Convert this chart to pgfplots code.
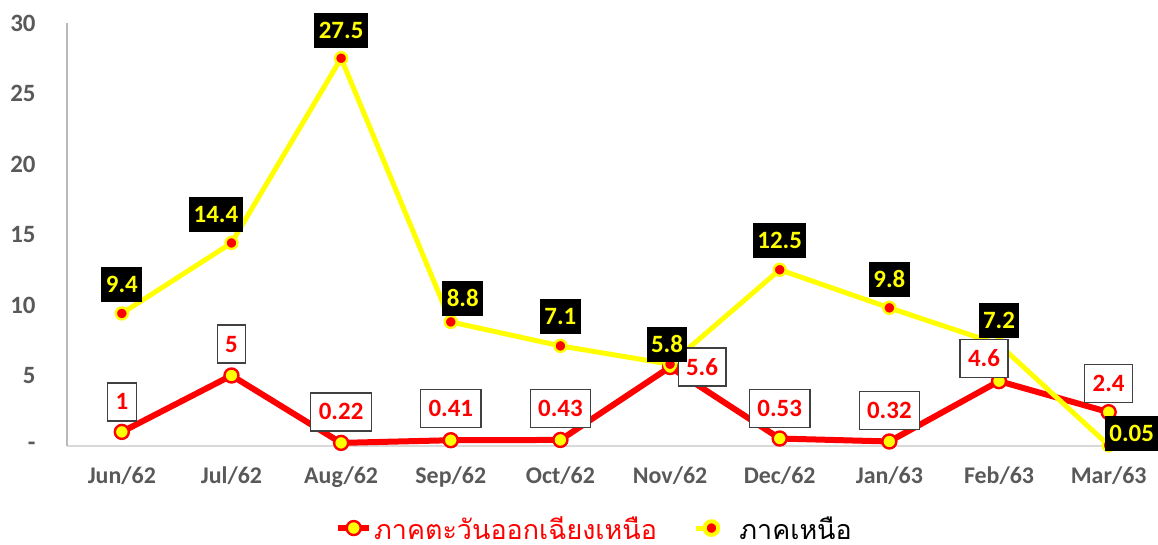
\documentclass[border=0pt]{standalone}
\usepackage{pgfplots}
\usepackage{pgfplotstable}
\pgfplotsset{compat=1.18}
\usepackage{fontspec}
\setmainfont{Carlito}
\newfontfamily\thaifont[Script=Thai]{Loma}
\definecolor{tgray}{HTML}{595959}
\definecolor{lred}{HTML}{FF0000}
\definecolor{lyel}{HTML}{FFFF00}
\definecolor{boxborder}{HTML}{404040}

% dx, dy: label offset in pixels (dy positive = up)
\pgfplotstableread{
x y dx dy lab
0 1 0 30 1
1 5 0 31.5 5
2 0.22 0 31 0.22
3 0.41 0 31.5 0.41
4 0.43 0 31.5 0.43
5 5.6 32 0 5.6
6 0.53 0 30 0.53
7 0.32 0 31 0.32
8 4.6 -15 23 4.6
9 2.4 0 29 2.4
}\redtab

\pgfplotstableread{
x y dx dy lab
0 9.4 0 29 9.4
1 14.4 -15.5 28 14.4
2 27.5 0 28 27.5
3 8.8 12 23 8.8
4 7.1 0 29 7.1
5 5.8 -3 20 5.8
6 12.5 0 29 12.5
7 9.8 0 28 9.8
8 7.2 0 24 7.2
9 0.05 23 12 0.05
}\yeltab

\begin{document}
\begin{tikzpicture}
\begin{axis}[
  at={(0,0)}, anchor=south west,
  scale only axis, width=545.5bp, height=211.5bp,
  xmin=-0.5, xmax=9.45, ymin=0, ymax=30,
  clip=false,
  axis x line=bottom, axis y line=left,
  x axis line style={-, draw=gray!30, line width=0.75bp},
  y axis line style={-, draw=gray!55, line width=1bp},
  major tick length=0pt,
  /pgf/number format/assume math mode=true,
  xtick={0,...,9},
  xticklabels={Jun/62,Jul/62,Aug/62,Sep/62,Oct/62,Nov/62,Dec/62,Jan/63,Feb/63,Mar/63},
  ytick={0,5,...,30},
  yticklabels={-\hspace{6.5bp},5,10,15,20,25,30},
  ticklabel style={font=\fontsize{12}{14}\selectfont\bfseries, text=tgray, inner sep=0pt},
  xticklabel style={anchor=base, yshift=-18.5bp},
  yticklabel style={anchor=east, xshift=-15.5bp, font=\fontsize{12.5}{14}\selectfont\bfseries},
  legend style={at={(0.4835,-0.194)}, anchor=center, draw=none, fill=none, inner sep=0pt,
    legend columns=2, font=\fontsize{13.5}{15}\selectfont,
    nodes={inner xsep=1bp, inner ysep=0pt, text depth=0pt},
    /tikz/every even column/.append style={column sep=17.5bp}},
  legend cell align=left,
]
\addlegendimage{legend image code/.code={
  \draw[lred, line width=3bp] (0bp,0bp) -- (15.5bp,0bp);
  \draw[fill=lyel, draw=lred, line width=1.2bp] (7.75bp,0bp) circle (3.5bp);
  \path[draw=none] (0bp,-1bp) rectangle (16.5bp,1bp);}}
\addlegendentry{\textcolor{lred}{\thaifont ภาคตะวันออกเฉียงเหนือ}}
\addlegendimage{legend image code/.code={
  \draw[lyel, line width=2.5bp] (0bp,0bp) -- (7.5bp,0bp);
  \draw[fill=lred, draw=lyel, line width=2bp] (7.5bp,0bp) circle (3.4bp);
  \path[draw=none] (0bp,-1bp) rectangle (20.5bp,1bp);}}
\addlegendentry{\thaifont ภาคเหนือ}

\addplot[lred, line width=3bp, forget plot] table[x=x,y=y]{\redtab};
\addplot[lyel, line width=2.5bp, forget plot] table[x=x,y=y]{\yeltab};
\addplot[only marks, mark=*, mark size=3.5bp, mark options={fill=lyel, draw=lred, line width=1.2bp}, forget plot] table[x=x,y=y]{\redtab};
\addplot[only marks, mark=*, mark size=3bp, mark options={fill=lred, draw=lyel, line width=1.2bp}, forget plot] table[x=x,y=y]{\yeltab};

\addplot[draw=none, mark=none, forget plot, point meta=explicit symbolic,
  nodes near coords,
  visualization depends on={\thisrow{dx}\as\dx},
  visualization depends on={\thisrow{dy}\as\dy},
  every node near coord/.style={anchor=center, xshift=\dx*0.5bp, yshift=\dy*0.5bp,
    fill=white, draw=boxborder, line width=0.6bp, text=lred,
    font=\fontsize{12.5}{14}\selectfont\bfseries,
    inner xsep=4bp, inner ysep=5.5bp, text height=8bp, text depth=0pt}]
  table[x=x,y=y,meta=lab]{\redtab};
\addplot[draw=none, mark=none, forget plot, point meta=explicit symbolic,
  nodes near coords,
  visualization depends on={\thisrow{dx}\as\dx},
  visualization depends on={\thisrow{dy}\as\dy},
  every node near coord/.style={anchor=center, xshift=\dx*0.5bp, yshift=\dy*0.5bp,
    fill=black, text=lyel,
    font=\fontsize{12.5}{14}\selectfont\bfseries,
    inner xsep=2.2bp, inner ysep=4.75bp, text height=8bp, text depth=0pt}]
  table[x=x,y=y,meta=lab]{\yeltab};
\end{axis}
\pgfresetboundingbox
\path[use as bounding box] (-33.5bp,-49.5bp) rectangle (545.5bp,223bp);
\end{tikzpicture}
\end{document}
